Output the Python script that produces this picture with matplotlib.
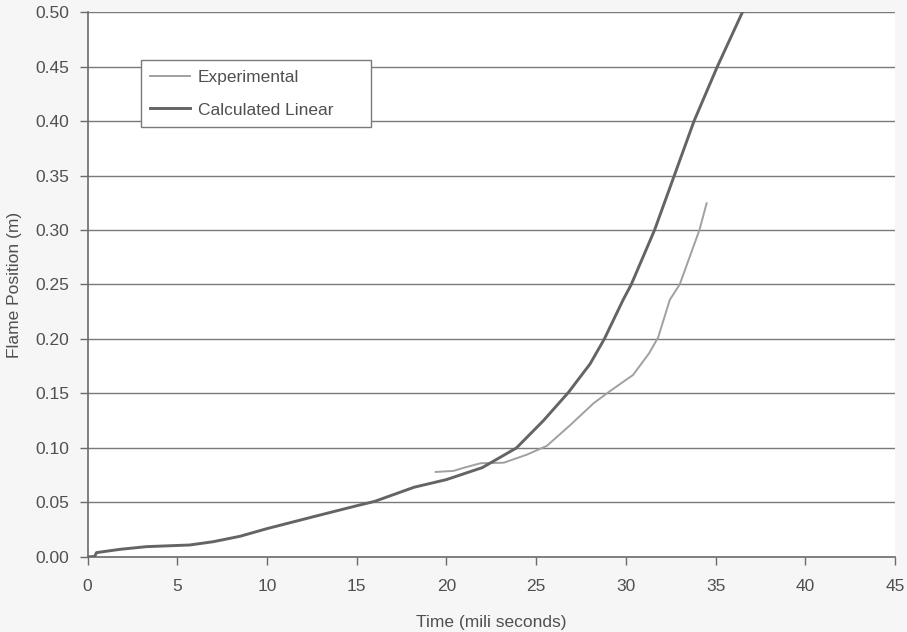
import matplotlib
matplotlib.use('Agg')
import matplotlib.pyplot as plt

plt.rcParams['font.family'] = ['Liberation Sans', 'DejaVu Sans']

# values (time in ms, position in m)
calc_t = [0, 0.4, 0.5, 1.8, 3.3, 5.7, 7.0, 8.5, 10.0, 12.6, 15.0, 16.0, 18.2, 20.0,
          22.0, 23.9, 25.4, 26.8, 28.0, 28.8, 29.85, 30.3, 31.6, 32.7, 33.8, 35.1,
          36.5, 37.0]
calc_y = [0, 0.0005, 0.004, 0.007, 0.0095, 0.011, 0.014, 0.019, 0.026, 0.037, 0.047,
          0.051, 0.064, 0.071, 0.082, 0.100, 0.125, 0.151, 0.177, 0.200, 0.236, 0.250,
          0.300, 0.350, 0.400, 0.450, 0.500, 0.518]

exp_t = [19.4, 20.4, 21.0, 21.9, 23.2, 24.5, 25.6, 26.9, 28.2, 29.1, 30.4, 31.3,
         31.8, 32.45, 33.0, 34.1, 34.5]
exp_y = [0.078, 0.079, 0.082, 0.086, 0.0865, 0.094, 0.102, 0.121, 0.141, 0.152,
         0.167, 0.187, 0.2015, 0.236, 0.250, 0.300, 0.3245]

xticks = [0, 5, 10, 15, 20, 25, 30, 35, 40, 45]
yticks = [0.00, 0.05, 0.10, 0.15, 0.20, 0.25, 0.30, 0.35, 0.40, 0.45, 0.50]

txt = '#505050'
fs = 12.5

fig = plt.figure(figsize=(9.07, 6.32), dpi=100, facecolor='#f6f6f6')
ax = fig.add_axes([0.0965, 0.1187, 0.8903, 0.8623])
ax.set_facecolor('white')

for y in yticks[1:]:
    ax.axhline(y, color='#7a7a7a', lw=1.0, zorder=1)

ax.plot(exp_t, exp_y, color='#a0a0a0', lw=1.4, label='Experimental', zorder=3)
ax.plot(calc_t, calc_y, color='#646464', lw=2.1, label='Calculated Linear', zorder=3)

ax.set_xlim(0, 45)
ax.set_ylim(0, 0.5)
ax.set_xticks(xticks)
ax.set_yticks(yticks)
ax.set_yticklabels(['%.2f' % v for v in yticks])

for s in ['top', 'right']:
    ax.spines[s].set_visible(False)
for s in ['left', 'bottom']:
    ax.spines[s].set_color('#6a6a6a')
    ax.spines[s].set_linewidth(1.2)

ax.tick_params(axis='both', colors='#6a6a6a', labelcolor=txt, labelsize=fs,
               length=6, width=1)
ax.tick_params(axis='x', pad=10)
ax.tick_params(axis='y', pad=7)

ax.set_xlabel('Time (mili seconds)', color=txt, fontsize=fs, labelpad=15)
ax.set_ylabel('Flame Position (m)', color=txt, fontsize=fs, labelpad=10)

# legend box stretched to the width it has in the original
leg = ax.legend(loc='upper left', bbox_to_anchor=(0.0659, 0.7866, 0.285, 0.1248),
                mode='expand', fontsize=fs, frameon=True, fancybox=False,
                handlelength=2.3, borderpad=0.55, labelspacing=1.0,
                handletextpad=0.45, borderaxespad=0)
leg.get_frame().set_edgecolor('#7a7a7a')
leg.get_frame().set_linewidth(1.0)
leg.get_frame().set_alpha(1)
for t in leg.get_texts():
    t.set_color(txt)

fig.savefig('out.png', dpi=100, facecolor=fig.get_facecolor())
